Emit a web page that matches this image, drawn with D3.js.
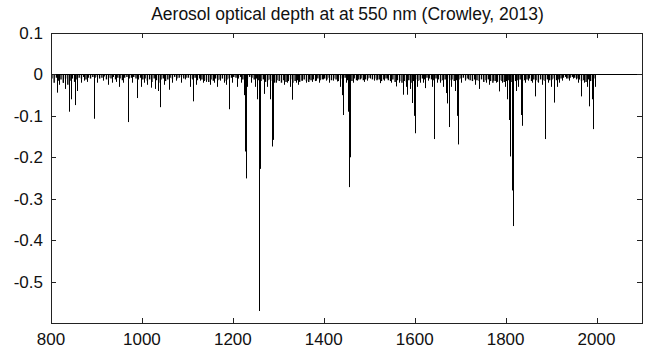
<!DOCTYPE html>
<html>
<head>
<meta charset="utf-8">
<script src="https://cdn.jsdelivr.net/npm/d3@7"></script>
<style>
  body { margin: 0; background: #fff; }
  text { font-family: "Liberation Sans", Arial, sans-serif; fill: #111; }
</style>
</head>
<body>
<svg id="chart" width="652" height="353"></svg>
<script>
// axis settings
const xTicks = [800, 1000, 1200, 1400, 1600, 1800, 2000]
const yTicks = [0.1, 0, -0.1, -0.2, -0.3, -0.4, -0.5]
const yTickLabels = ['0.1', '0', '-0.1', '-0.2', '-0.3', '-0.4', '-0.5']
const titleText = 'Aerosol optical depth at at 550 nm (Crowley, 2013)'

// strong absorption lines (nm, AOD)
const lineNm = [814, 818, 826, 831, 840, 845, 853, 858, 866, 873, 880, 895, 902, 915, 925, 935, 942, 950, 958, 970,
  978, 990, 998, 1005, 1012, 1020, 1028, 1035, 1040, 1048, 1060, 1066, 1075, 1085, 1095, 1105, 1113, 1120, 1128, 1135,
  1142, 1150, 1158, 1165, 1172, 1180, 1186, 1192, 1198, 1210, 1218, 1224, 1227, 1228, 1232, 1240, 1248, 1254, 1258, 1259,
  1269, 1276, 1282, 1286, 1288, 1295, 1305, 1312, 1320, 1326, 1331, 1338, 1344, 1352, 1360, 1368, 1375, 1382, 1390, 1398,
  1405, 1412, 1420, 1429, 1436, 1440, 1443, 1448, 1454, 1456, 1458, 1465, 1472, 1480, 1488, 1495, 1502, 1510, 1517, 1524,
  1532, 1540, 1548, 1558, 1566, 1575, 1580, 1584, 1590, 1594, 1598, 1601, 1605, 1612, 1618, 1623, 1630, 1638, 1643, 1648,
  1655, 1662, 1668, 1672, 1676, 1680, 1688, 1693, 1696, 1702, 1710, 1718, 1726, 1733, 1742, 1750, 1757, 1764, 1772, 1778,
  1786, 1792, 1798, 1804, 1808, 1810, 1813, 1817, 1822, 1828, 1833, 1835, 1842, 1850, 1858, 1865, 1872, 1880, 1887, 1894,
  1900, 1907, 1912, 1918, 1925, 1932, 1940, 1948, 1955, 1960, 1966, 1972, 1978, 1984, 1990, 1993, 1997]
const lineAod = [-0.044, -0.025, -0.02, -0.035, -0.09, -0.06, -0.074, -0.04, -0.02, -0.015, -0.018, -0.107, -0.02, -0.015, -0.025, -0.02, -0.018, -0.03, -0.02, -0.115,
  -0.02, -0.057, -0.03, -0.02, -0.025, -0.032, -0.035, -0.04, -0.079, -0.025, -0.037, -0.02, -0.015, -0.02, -0.012, -0.03, -0.065, -0.025, -0.015, -0.02,
  -0.018, -0.025, -0.02, -0.03, -0.015, -0.02, -0.025, -0.084, -0.02, -0.03, -0.02, -0.05, -0.186, -0.251, -0.03, -0.02, -0.03, -0.06, -0.571, -0.228,
  -0.047, -0.03, -0.06, -0.174, -0.158, -0.02, -0.015, -0.025, -0.02, -0.03, -0.061, -0.02, -0.025, -0.015, -0.02, -0.012, -0.018, -0.015, -0.02, -0.012,
  -0.015, -0.02, -0.015, -0.017, -0.03, -0.05, -0.098, -0.02, -0.09, -0.272, -0.2, -0.02, -0.015, -0.012, -0.018, -0.015, -0.01, -0.015, -0.012, -0.021,
  -0.015, -0.01, -0.02, -0.029, -0.02, -0.049, -0.03, -0.049, -0.035, -0.069, -0.1, -0.142, -0.03, -0.02, -0.02, -0.033, -0.015, -0.03, -0.156, -0.02,
  -0.02, -0.03, -0.045, -0.07, -0.127, -0.03, -0.04, -0.1, -0.169, -0.02, -0.015, -0.012, -0.015, -0.025, -0.035, -0.015, -0.02, -0.025, -0.015, -0.02,
  -0.041, -0.02, -0.03, -0.06, -0.11, -0.198, -0.28, -0.366, -0.04, -0.03, -0.098, -0.124, -0.02, -0.015, -0.02, -0.053, -0.02, -0.025, -0.156, -0.02,
  -0.03, -0.068, -0.03, -0.02, -0.015, -0.01, -0.015, -0.01, -0.012, -0.02, -0.053, -0.02, -0.03, -0.077, -0.06, -0.132, -0.03]

// weak lines on a 5 nm grid starting at 802 nm
const weakStartNm = 802
const weakStepNm = 5
const weakAod = [
  -0.01, -0.02, -0.008, -0.015, -0.012, -0.02, -0.01, -0.025, -0.015, -0.01, -0.018, -0.012, -0.008, -0.01, -0.006, -0.012, -0.008, -0.01, -0.006, -0.008,
  -0.006, -0.01, -0.008, -0.005, -0.012, -0.008, -0.01, -0.006, -0.012, -0.008, -0.01, -0.014, -0.008, -0.006, -0.01, -0.008, -0.006, -0.01, -0.012, -0.008,
  -0.012, -0.01, -0.015, -0.012, -0.018, -0.01, -0.014, -0.02, -0.012, -0.01, -0.016, -0.012, -0.008, -0.01, -0.006, -0.01, -0.008, -0.006, -0.01, -0.008,
  -0.008, -0.01, -0.012, -0.008, -0.014, -0.01, -0.012, -0.016, -0.014, -0.018, -0.012, -0.015, -0.01, -0.014, -0.012, -0.01, -0.016, -0.012, -0.01, -0.008,
  -0.006, -0.008, -0.01, -0.006, -0.012, -0.008, -0.01, -0.006, -0.008, -0.012, -0.01, -0.014, -0.016, -0.012, -0.018, -0.014, -0.012, -0.016, -0.02, -0.014,
  -0.016, -0.02, -0.014, -0.018, -0.016, -0.012, -0.02, -0.016, -0.014, -0.018, -0.015, -0.012, -0.016, -0.018, -0.014, -0.012, -0.016, -0.01, -0.014, -0.012,
  -0.01, -0.012, -0.008, -0.014, -0.01, -0.012, -0.016, -0.01, -0.012, -0.008, -0.014, -0.012, -0.016, -0.01, -0.014, -0.012, -0.01, -0.014, -0.012, -0.01,
  -0.008, -0.012, -0.01, -0.014, -0.012, -0.016, -0.012, -0.01, -0.014, -0.016, -0.012, -0.018, -0.014, -0.016, -0.02, -0.016, -0.018, -0.014, -0.02, -0.016,
  -0.012, -0.016, -0.014, -0.01, -0.012, -0.008, -0.01, -0.012, -0.014, -0.01, -0.012, -0.016, -0.014, -0.012, -0.01, -0.014, -0.012, -0.016, -0.014, -0.012,
  -0.01, -0.008, -0.012, -0.01, -0.014, -0.016, -0.012, -0.014, -0.016, -0.012, -0.018, -0.014, -0.012, -0.016, -0.02, -0.016, -0.018, -0.014, -0.016, -0.018,
  -0.016, -0.014, -0.018, -0.012, -0.016, -0.014, -0.012, -0.016, -0.014, -0.012, -0.01, -0.016, -0.012, -0.014, -0.018, -0.012, -0.014, -0.016, -0.012, -0.014,
  -0.012, -0.01, -0.014, -0.012, -0.01, -0.008, -0.006, -0.01, -0.008, -0.006, -0.008, -0.01, -0.012, -0.016, -0.014, -0.018, -0.012, -0.016, -0.014, -0.01]

// continuum (zero line) ends
const baseNm = [800, 2100]
const baseAod = [0, 0]

const width = 652, height = 353
const margin = {left: 51, right: 10, top: 33, bottom: 30}
const tickLen = 5

const svg = d3.select('#chart')

const x = d3.scaleLinear()
    .domain([800, 2100])
    .range([margin.left, width - margin.right])

const y = d3.scaleLinear()
    .domain([-0.6, 0.1])
    .range([height - margin.bottom, margin.top])

// build line records
const weak = weakAod.map((v, i) => ({nm: weakStartNm + i*weakStepNm, aod: v}))
const strong = lineNm.map((nm, i) => ({nm: nm, aod: lineAod[i]}))
const base = baseNm.map((nm, i) => ({nm: nm, aod: baseAod[i]}))

const plot = svg.append('g')

// zero line
plot.append('path')
    .datum(base)
    .attr('d', d3.line().x(d=>x(d.nm)).y(d=>Math.round(y(d.aod))+0.5))
    .style('fill', 'none')
    .style('stroke', '#000')
    .style('stroke-width', 1)

// weak lines, slightly soft like the jpeg band
plot.selectAll('.weak')
    .data(weak)
    .enter()
    .append('line')
    .attr('class', 'weak')
    .attr('x1', d=>x(d.nm))
    .attr('x2', d=>x(d.nm))
    .attr('y1', y(0))
    .attr('y2', d=>y(d.aod))
    .style('stroke', '#000')
    .style('stroke-width', 1.4)

// strong absorption stems
plot.selectAll('.stem')
    .data(strong)
    .enter()
    .append('line')
    .attr('class', 'stem')
    .attr('x1', d=>Math.round(x(d.nm))+0.5)
    .attr('x2', d=>Math.round(x(d.nm))+0.5)
    .attr('y1', y(0))
    .attr('y2', d=>y(d.aod))
    .style('stroke', '#000')
    .style('stroke-width', 1)

// axes box
const x0 = x.range()[0], x1 = x.range()[1]
const y0 = y.range()[0], y1 = y.range()[1]

svg.append('rect')
    .attr('x', x0 + 0.5)
    .attr('y', y1 + 0.5)
    .attr('width', x1 - x0)
    .attr('height', y0 - y1)
    .style('fill', 'none')
    .style('stroke', '#222')
    .style('stroke-width', 1)

// ticks on all four sides (inward)
const tickG = svg.append('g').style('stroke', '#222').style('stroke-width', 1)

xTicks.forEach(t => {
    const px = Math.round(x(t)) + 0.5
    tickG.append('line').attr('x1', px).attr('x2', px).attr('y1', y0).attr('y2', y0 - tickLen)
    tickG.append('line').attr('x1', px).attr('x2', px).attr('y1', y1).attr('y2', y1 + tickLen)
})
yTicks.forEach(t => {
    const py = Math.round(y(t)) + 0.5
    tickG.append('line').attr('x1', x0).attr('x2', x0 + tickLen).attr('y1', py).attr('y2', py)
    tickG.append('line').attr('x1', x1).attr('x2', x1 - tickLen).attr('y1', py).attr('y2', py)
})

// tick labels
svg.selectAll('.xlabel')
    .data(xTicks)
    .enter()
    .append('text')
    .attr('class', 'xlabel')
    .attr('x', d=>x(d))
    .attr('y', y0 + 22)
    .attr('text-anchor', 'middle')
    .style('font-size', '17px')
    .text(d=>d)

svg.selectAll('.ylabel')
    .data(yTicks)
    .enter()
    .append('text')
    .attr('class', 'ylabel')
    .attr('x', x0 - 8)
    .attr('y', d=>y(d) + 6)
    .attr('text-anchor', 'end')
    .style('font-size', '17px')
    .text((d, i)=>yTickLabels[i])

// title
svg.append('text')
    .attr('x', (x0 + x1)/2 + 1)
    .attr('y', 20)
    .attr('text-anchor', 'middle')
    .style('font-size', '17.5px')
    .text(titleText)
</script>
</body>
</html>
